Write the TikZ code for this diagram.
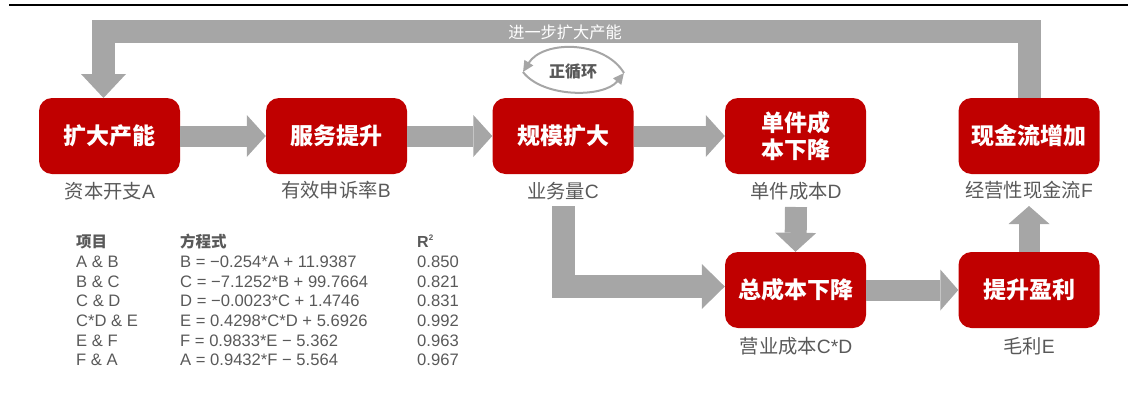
\documentclass[tikz,border=0pt]{standalone}
\usepackage{fontspec}
\setmainfont{Liberation Sans}
\newfontfamily\cjk{Noto Sans CJK SC}
\usetikzlibrary{arrows.meta}
\definecolor{boxred}{HTML}{C00000}
\definecolor{arrgray}{HTML}{A6A6A6}
\definecolor{lblgray}{HTML}{595959}
\begin{document}
\begin{tikzpicture}[x=1pt,y=-1pt,
  box/.style={fill=boxred, rounded corners=13pt, minimum width=141pt, minimum height=76pt,
    inner sep=0pt, text=white, font=\cjk\bfseries\fontsize{23}{27}\selectfont, align=center},
  lbl/.style={text=lblgray, font=\fontsize{19.3}{21}\selectfont, inner sep=0pt},
  flow/.style={draw=arrgray, line width=21pt, -{Triangle[length=19pt,width=42pt,line width=0pt]}},
  cyc/.style={draw=arrgray, line width=2pt, -{Triangle[length=11pt,width=10pt]}},
  hdr/.style={anchor=base west, inner sep=0pt, text=lblgray, font=\cjk\bfseries\fontsize{15.5}{18}\selectfont},
  cell/.style={anchor=base west, inner sep=0pt, text=lblgray, font=\fontsize{16.6}{19}\selectfont}]
\useasboundingbox (0,0) rectangle (1136,394);

% top rule
\draw[line width=2.5pt] (9,5) -- (1128,5);

% boxes
\node[box] (cap)    at (109.5,136) {扩大产能};
\node[box] (svc)    at (336.5,136) {服务提升};
\node[box] (scale)  at (563,136)   {规模扩大};
\node[box] (unit)   at (795.5,136) {单件成\\本下降};
\node[box] (cash)   at (1029,136)  {现金流增加};
\node[box] (total)  at (795.5,290) {总成本下降};
\node[box] (profit) at (1029,290)  {提升盈利};

% labels
\node[lbl] (lA) at (110,191)  {{\cjk 资本开支}A};
\node[lbl] (lB) at (336,190)  {{\cjk 有效申诉率}B};
\node[lbl] (lC) at (563,191)  {{\cjk 业务量}C};
\node[lbl] (lD) at (796,191)  {{\cjk 单件成本}D};
\node[lbl] (lF) at (1029,190) {{\cjk 经营性现金流}F};
\node[lbl] (lCD) at (796,346) {{\cjk 营业成本}C*D};
\node[lbl] (lE) at (1029,346) {{\cjk 毛利}E};

% helper coordinates
\coordinate (fbA) at (103.5,98);
\coordinate (cTop) at (563.5,206);
\coordinate (dTop) at (796,207);
\coordinate (gTop) at (1029,206);
\coordinate (cycL) at (523,72);
\coordinate (cycR) at (624,73);

% main flow arrows
\draw[flow] (cap.east) -- (svc.west);
\draw[flow] (svc.east) -- (scale.west);
\draw[flow] (scale.east) -- (unit.west);
\draw[flow, line width=23pt, -{Triangle[length=23pt,width=45pt,line width=0pt]}]
  (cTop) |- ([yshift=3.5pt]total.west);
\draw[flow, line width=22pt, -{Triangle[length=19pt,width=41pt,line width=0pt]}]
  (dTop) -- (total.north);
\draw[flow, -{Triangle[length=18pt,width=41pt,line width=0pt]}] (total.east) -- (profit.west);
\draw[flow, -{Triangle[length=18pt,width=41pt,line width=0pt]}] (profit.north) -- (gTop);

% feedback arrow
\draw[flow, line width=23pt, -{Triangle[length=24pt,width=45pt,line width=0pt]}]
  (cash.north) |- (565,31.5) -| (fbA);
\node[text=white, font=\cjk\fontsize{16.2}{18}\selectfont, inner sep=0pt] (fbtxt) at (565,32) {进一步扩大产能};

% virtuous cycle
\draw[cyc] (cycR) .. controls (604,40) and (543,40) .. (cycL);
\draw[cyc] (cycL) .. controls (543,98) and (604,98) .. (cycR);
\node[text=lblgray, font=\cjk\bfseries\fontsize{16}{18}\selectfont, inner sep=0pt] (cyctxt) at (573,72) {正循环};

% table
\node[hdr] (h1) at (76,247)  {项目};
\node[hdr] (h2) at (180,247) {方程式};
\node[hdr, font=\bfseries\fontsize{16}{18}\selectfont] (h3) at (417,247) {R\textsuperscript{\fontsize{8}{9}\selectfont 2}};
\foreach \i/\yy/\a/\b/\c in {
  1/267.7/A \& B/B = −0.254*A + 11.9387/0.850,
  2/287.3/B \& C/C = −7.1252*B + 99.7664/0.821,
  3/306.9/C \& D/D = −0.0023*C + 1.4746/0.831,
  4/326.5/C*D \& E/E = 0.4298*C*D + 5.6926/0.992,
  5/346.1/E \& F/F = 0.9833*E − 5.362/0.963,
  6/365.7/F \& A/A = 0.9432*F − 5.564/0.967} {
  \node[cell] (ra\i) at (76,\yy)  {\a};
  \node[cell] (rb\i) at (180,\yy) {\b};
  \node[cell] (rc\i) at (417,\yy) {\c};
}
\end{tikzpicture}
\end{document}
